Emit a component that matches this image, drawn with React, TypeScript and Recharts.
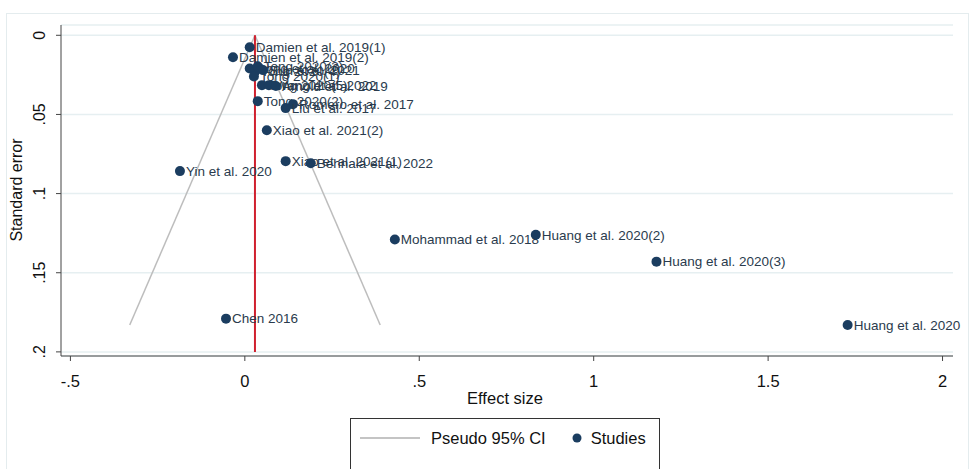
import React from 'react';
import { ScatterChart, Scatter, XAxis, YAxis, CartesianGrid, ReferenceLine } from 'recharts';

const studyNames = [
  'Damien et al. 2019(1)',
  'Damien et al. 2019(2)',
  'Dong et al. 2020',
  'Tong 2020(4)',
  'Tong 2020(3)',
  'Tong 2020(1)',
  'Sun et al. 2021',
  'Tong 2020(5)',
  'Wang et al. 2022',
  'Arnold et al. 2019',
  'Tong 2020(2)',
  'Romero et al. 2017',
  'Liu et al. 2017',
  'Xiao et al. 2021(2)',
  'Xiao et al. 2021(1)',
  'Behnala et al. 2022',
  'Yin et al. 2020',
  'Mohammad et al. 2018',
  'Huang et al. 2020(2)',
  'Huang et al. 2020(3)',
  'Huang et al. 2020',
  'Chen 2016',
];
const effectSizes = [
  0.014, -0.034, 0.014, 0.029, 0.037, 0.026, 0.052, 0.049, 0.069, 0.089, 0.037, 0.138, 0.117,
  0.063, 0.117, 0.189, -0.186, 0.43, 0.834, 1.18, 1.728, -0.054,
];
const standardErrors = [
  0.0076, 0.0139, 0.021, 0.023, 0.0196, 0.026, 0.022, 0.0315, 0.0315, 0.032, 0.0416, 0.0435, 0.046,
  0.06, 0.0795, 0.0808, 0.0858, 0.129, 0.126, 0.143, 0.183, 0.179,
];

const xTicks = [-0.5, 0, 0.5, 1, 1.5, 2];
const xTickLabels = ['-.5', '0', '.5', '1', '1.5', '2'];
const yTicks = [0, 0.05, 0.1, 0.15, 0.2];
const yTickLabels = ['0', '.05', '.1', '.15', '.2'];

const pooledLine = [{ x: 0.029, y: 0 }, { x: 0.029, y: 0.2 }];
const ciLeft = [{ x: 0.029, y: 0 }, { x: -0.33, y: 0.183 }];
const ciRight = [{ x: 0.029, y: 0 }, { x: 0.388, y: 0.183 }];

const studies = studyNames.map((name, i) => ({ name, x: effectSizes[i], y: standardErrors[i] }));

const FONT = '"Liberation Sans", Arial, sans-serif';
const NAVY = '#1b3d60';
const AXIS = '#444';

const StudyDot = (props: any) => {
  const { cx, cy, payload } = props;
  if (cx == null || cy == null) return <g />;
  return (
    <g>
      <circle cx={cx} cy={cy} r={5} fill={NAVY} />
      <text x={cx + 6} y={cy + 4.8} fontSize={13.5} fontFamily={FONT} fill="#2a3b4d">
        {payload.name}
      </text>
    </g>
  );
};

const YTick = (props: any) => {
  const { x, y, payload } = props;
  const idx = yTicks.indexOf(payload.value);
  const lbl = idx >= 0 ? yTickLabels[idx] : String(payload.value);
  const bx = x - 9;
  return (
    <text
      x={bx}
      y={y}
      transform={`rotate(-90, ${bx}, ${y})`}
      textAnchor="middle"
      fontSize={16}
      fontFamily={FONT}
      fill="#111"
    >
      {lbl}
    </text>
  );
};

const XTick = (props: any) => {
  const { x, y, payload } = props;
  const idx = xTicks.indexOf(payload.value);
  const lbl = idx >= 0 ? xTickLabels[idx] : String(payload.value);
  return (
    <text x={x} y={y + 24} textAnchor="middle" fontSize={16.5} fontFamily={FONT} fill="#111">
      {lbl}
    </text>
  );
};

export default function App() {
  return (
    <div
      style={{
        position: 'absolute',
        left: 0,
        top: 0,
        width: 974,
        height: 469,
        overflow: 'hidden',
        background: '#fff',
      }}
    >
      <div
        style={{
          position: 'absolute',
          left: 6,
          top: 13,
          width: 961,
          height: 480,
          border: '1px solid #e4ecee',
        }}
      />
      <div style={{ position: 'absolute', left: 0, top: 0 }}>
        <ScatterChart width={974} height={469} margin={{ top: 25, right: 21, bottom: 73, left: 0 }}>
          <CartesianGrid vertical={false} stroke="#e6eff1" strokeWidth={1.5} />
          <XAxis
            type="number"
            dataKey="x"
            domain={[-0.527, 2.03]}
            ticks={xTicks}
            height={40}
            stroke={AXIS}
            tickSize={5}
            tick={<XTick />}
            label={(p: any) => (
              <text x={505} y={404} textAnchor="middle" fontSize={16.5} fontFamily={FONT} fill="#111">
                Effect size
              </text>
            )}
          />
          <YAxis
            type="number"
            dataKey="y"
            reversed
            domain={[-0.0065, 0.2026]}
            ticks={yTicks}
            width={61}
            stroke={AXIS}
            tickSize={5}
            tick={<YTick />}
            label={(p: any) => (
              <text
                x={22}
                y={190}
                transform="rotate(-90, 22, 190)"
                textAnchor="middle"
                fontSize={16}
                fontFamily={FONT}
                fill="#111"
              >
                Standard error
              </text>
            )}
          />
          <ReferenceLine segment={ciLeft} stroke="#bdbdbd" strokeWidth={1.5} ifOverflow="visible" />
          <ReferenceLine segment={ciRight} stroke="#bdbdbd" strokeWidth={1.5} ifOverflow="visible" />
          <ReferenceLine segment={pooledLine} stroke="#d0202e" strokeWidth={2} ifOverflow="visible" />
          <Scatter data={studies} shape={<StudyDot />} isAnimationActive={false} />
        </ScatterChart>
      </div>
      <div
        style={{
          position: 'absolute',
          left: 350,
          top: 418,
          width: 308,
          height: 80,
          border: '1px solid #333',
          background: '#fff',
          fontFamily: FONT,
          fontSize: 16.5,
          color: '#111',
        }}
      >
        <div style={{ position: 'absolute', left: 9, top: 9, display: 'flex', alignItems: 'center', height: 20 }}>
          <svg width={60} height={4} style={{ display: 'block' }}>
            <line x1={0} y1={2} x2={60} y2={2} stroke="#c4c4c4" strokeWidth={2} />
          </svg>
          <span style={{ marginLeft: 11 }}>Pseudo 95% CI</span>
          <svg width={10} height={10} style={{ display: 'block', marginLeft: 26 }}>
            <circle cx={5} cy={5} r={4.5} fill={NAVY} />
          </svg>
          <span style={{ marginLeft: 9 }}>Studies</span>
        </div>
      </div>
    </div>
  );
}
